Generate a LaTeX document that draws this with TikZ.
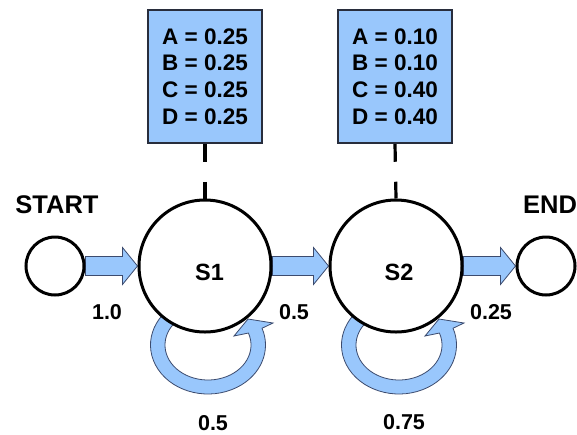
\documentclass[tikz,border=0pt]{standalone}
\usepackage{fontspec}
\setmainfont{Liberation Sans}
\usetikzlibrary{calc,backgrounds}

\definecolor{paleblue}{RGB}{153,199,252}
\definecolor{arrowedge}{RGB}{60,75,110}
\definecolor{boxedge}{RGB}{40,45,60}

% straight block arrow from the east side of #1 to the west side of #2
\newcommand\BlkArrow[2]{%
  \path[blockarrow] let \p1=(#1.east), \p2=(#2.west) in
    (\x1,\y1+9.5pt) -- (\x2-15pt,\y1+9.5pt) -- (\x2-15pt,\y1+18.5pt) -- (\x2,\y1)
    -- (\x2-15pt,\y1-18.5pt) -- (\x2-15pt,\y1-9.5pt) -- (\x1,\y1-9.5pt) -- cycle;}

% curved block arrow looping under a state and back into it
\newcommand\SelfLoop[1]{%
  \begin{scope}[shift={($(#1.center)+(3,79)$)}]
    \path[blockarrow]
      (240:57.5 and 49) arc[start angle=240,end angle=-20,x radius=57.5,y radius=49]
      -- (65,-22) -- (40,-26) -- (26,-9)
      -- (-20:43 and 35) arc[start angle=-20,end angle=240,x radius=43,y radius=35]
      -- cycle;
  \end{scope}}

\begin{document}
\begin{tikzpicture}[x=1pt,y=-1pt,
  state/.style={circle,draw=black,fill=white,line width=3pt,minimum size=#1,inner sep=0pt},
  pbox/.style={rectangle,draw=boxedge,fill=paleblue,line width=1.5pt,minimum width=114pt,
    minimum height=133pt,inner sep=0pt,align=left,
    font=\fontsize{22.5}{26.7}\selectfont\bfseries},
  blockarrow/.style={fill=paleblue,draw=arrowedge,line width=0.8pt,line join=miter},
  stub/.style={draw=black,line width=3.2pt,dash pattern=on 18pt off 20pt on 40pt off 1pt},
  prob/.style={anchor=base,font=\fontsize{21.5}{24}\selectfont\bfseries,inner sep=0pt},
  endlabel/.style={anchor=base,font=\fontsize{25.5}{28}\selectfont\bfseries,inner sep=0pt},
  statelabel/.style={anchor=base,font=\fontsize{23.5}{26}\selectfont\bfseries,inner sep=0pt}]

\useasboundingbox (0,0) rectangle (577,434);

% states
\node[state=58pt]  (start) at (55,266) {};
\node[state=132pt] (s1)    at (205,266) {};
\node[state=132pt] (s2)    at (396,266) {};
\node[state=58pt]  (end)   at (546,266) {};

\node[statelabel] (s1name) at (209.5,280) {S1};
\node[statelabel] (s2name) at (399,280) {S2};
\node[endlabel] (startname) at (57,213) {START};
\node[endlabel] (endname)   at (550,213) {END};

% emission tables
\node[pbox] (b1) at (205,76.5) {A = 0.25\\B = 0.25\\C = 0.25\\D = 0.25};
\node[pbox] (b2) at (395,76.5) {A = 0.10\\B = 0.10\\C = 0.40\\D = 0.40};

% transition probabilities
\node[prob] (p10)  at (107,319) {1.0};
\node[prob] (p12)  at (294,319) {0.5};
\node[prob] (p2e)  at (491,319) {0.25};
\node[prob] (p11)  at (213,430) {0.5};
\node[prob] (p22)  at (404,429) {0.75};

\begin{scope}[on background layer]
  \draw[stub] (b1.south) -- (s1.north);
  \draw[stub] (b2.south) -- (s2.north);
  \BlkArrow{start}{s1}
  \BlkArrow{s1}{s2}
  \BlkArrow{s2}{end}
  \SelfLoop{s1}
  \SelfLoop{s2}
\end{scope}
\end{tikzpicture}
\end{document}
